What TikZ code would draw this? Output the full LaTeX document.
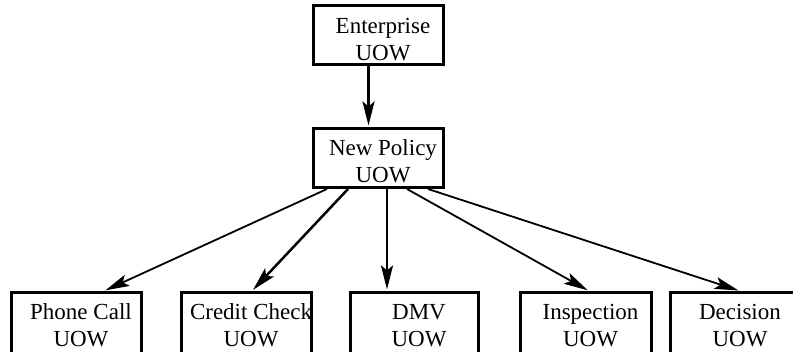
\documentclass[tikz,border=0pt]{standalone}
\usepackage{fontspec}
\setmainfont{Liberation Serif}
\usetikzlibrary{arrows.meta,calc}

\tikzset{
  uowbox/.style={draw, line width=3pt, rectangle, inner sep=0pt,
    minimum width=130pt, minimum height=59pt},
  lowbox/.style={uowbox, minimum height=62pt},
  uowtext/.style={font=\fontsize{23pt}{27pt}\selectfont, inner sep=0pt, anchor=base},
  link/.style={line width=1.8pt, shorten >=1.5pt,
    -{Stealth[length=24pt, width=12pt, inset=5pt]}},
  boldlink/.style={link, line width=2.5pt}
}

% two-line caption inside a unit-of-work box
\newcommand{\uowlabel}[3]{%
  \node[uowtext] (#1-top) at ($(#1.north)+(4.5,29)$) {#2};
  \node[uowtext] (#1-bot) at ($(#1.north)+(4.5,56)$) {#3};
}

\begin{document}
\begin{tikzpicture}[x=1pt, y=-1pt]
  \useasboundingbox (0,0) rectangle (793,352);
  \clip (0,0) rectangle (793,352);
  \fill[white] (0,0) rectangle (793,352);

  % units of work
  \node[uowbox] (ent)   at (378.5,35.5) {};
  \node[uowbox] (np)    at (378.5,158)  {};
  \node[lowbox] (phone) at (76.5,323.5)   {};
  \node[lowbox] (credit) at (246.5,323.5) {};
  \node[lowbox, minimum width=128pt] (dmv) at (414.5,323.5) {};
  \node[lowbox, minimum width=131pt] (insp) at (586,323.5) {};
  \node[lowbox, minimum width=150pt] (dec) at (745.5,323.5) {};

  \uowlabel{ent}{Enterprise}{UOW}
  \uowlabel{np}{New Policy}{UOW}
  \uowlabel{phone}{Phone Call}{UOW}
  \uowlabel{credit}{Credit Check}{UOW}
  \uowlabel{dmv}{DMV}{UOW}
  \uowlabel{insp}{Inspection}{UOW}
  \node[uowtext] (dec-top) at ($(dec.north)+(-5.5,29)$) {Decision};
  \node[uowtext] (dec-bot) at ($(dec.north)+(-5.5,56)$) {UOW};

  % connectors
  \draw[boldlink] ([xshift=-10pt]ent.south) -- ([xshift=-10pt]np.north);
  \draw[link]     ([xshift=-51.5pt]np.south) -- ([xshift=27.5pt]phone.north);
  \draw[boldlink] ([xshift=-30.5pt]np.south) -- ([xshift=5.5pt]credit.north);
  \draw[boldlink] ([xshift=8.5pt]np.south)   -- ([xshift=-27.5pt]dmv.north);
  \draw[link]     ([xshift=28.5pt]np.south)  -- ([xshift=3pt]insp.north);
  \draw[link]     ([xshift=49.5pt]np.south)  -- ([xshift=-5.5pt]dec.north);
\end{tikzpicture}
\end{document}
